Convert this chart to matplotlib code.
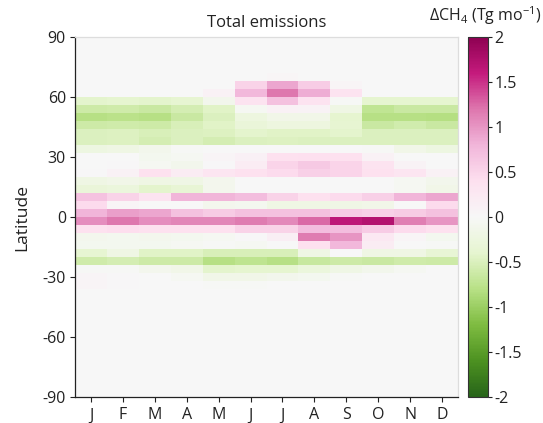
import numpy as np
import matplotlib
matplotlib.use("Agg")
import matplotlib.pyplot as plt

plt.rcParams['font.family'] = ['Open Sans', 'DejaVu Sans']
plt.rcParams['axes.unicode_minus'] = False
plt.rcParams['mathtext.fontset'] = 'custom'
plt.rcParams['mathtext.rm'] = 'Open Sans'
plt.rcParams['mathtext.it'] = 'Open Sans'

months = ['J', 'F', 'M', 'A', 'M', 'J', 'J', 'A', 'S', 'O', 'N', 'D']

# 4x5 style latitude grid: half-size polar boxes
lat_edges = [-90] + list(range(-88, 89, 4)) + [90]

# latitude band centres that carry a signal (all other bands are ~0)
band_lats = [70, 66, 62, 58, 54, 50, 46, 42, 38, 34, 30, 26, 22, 18, 14,
             10, 6, 2, -2, -6, -10, -14, -18, -22, -26, -30, -34]

# monthly delta CH4 (Tg/mo) per band, J..D
band_vals = [
    [0, 0, 0, 0, 0, 0, 0.04, 0, 0, 0, 0, 0],
    [0, 0, 0, 0, 0, 0.52, 0.9, 0.58, 0.05, 0, 0, 0],
    [0, 0, 0, 0, 0.1, 0.78, 1.2, 0.85, 0.35, 0, 0, 0],
    [-0.42, -0.4, -0.42, -0.38, -0.12, 0.35, 0.7, 0.35, -0.02, -0.4, -0.4, -0.4],
    [-0.62, -0.6, -0.65, -0.55, -0.45, -0.05, 0.1, 0.08, -0.2, -0.72, -0.65, -0.65],
    [-0.8, -0.78, -0.8, -0.65, -0.5, -0.25, -0.15, -0.15, -0.4, -0.8, -0.8, -0.82],
    [-0.62, -0.6, -0.62, -0.52, -0.45, -0.3, -0.25, -0.25, -0.38, -0.65, -0.58, -0.65],
    [-0.5, -0.47, -0.52, -0.5, -0.47, -0.42, -0.45, -0.45, -0.42, -0.5, -0.5, -0.5],
    [-0.5, -0.47, -0.55, -0.5, -0.56, -0.5, -0.48, -0.5, -0.5, -0.5, -0.5, -0.5],
    [-0.22, -0.2, -0.12, -0.02, 0, 0, 0, 0, 0, -0.02, -0.15, -0.22],
    [0, 0, -0.08, -0.05, 0.05, 0.12, 0.38, 0.4, 0.38, 0.1, 0, 0],
    [0, 0.03, -0.05, -0.12, 0.02, 0.2, 0.5, 0.62, 0.5, 0.35, 0.08, 0],
    [0.03, 0.1, 0.38, 0.2, 0.3, 0.38, 0.45, 0.55, 0.5, 0.38, 0.3, 0.1],
    [-0.2, -0.15, -0.2, -0.18, -0.1, 0, 0, 0, 0, 0, -0.05, -0.12],
    [-0.3, -0.28, -0.42, -0.35, -0.1, 0, 0, 0, 0, 0, -0.05, -0.15],
    [0.68, 0.52, 0.35, 0.8, 0.8, 0.72, 0.52, 0.38, 0.45, 0.55, 0.8, 0.9],
    [0.45, 0.05, 0, 0, -0.1, -0.08, -0.2, -0.2, -0.18, -0.15, 0, 0.45],
    [0.8, 0.95, 0.9, 0.7, 0.6, 0.7, 0.7, 0.7, 0.6, 0.55, 0.6, 0.7],
    [1.05, 1.2, 1.05, 1.1, 1.1, 1.17, 1.08, 1.25, 1.65, 1.72, 1.15, 1.0],
    [0.38, 0.42, 0.38, 0.38, 0.38, 0.52, 0.52, 0.72, 0.72, 0.58, 0.45, 0.38],
    [-0.1, -0.08, -0.1, -0.08, -0.05, 0.03, 0.15, 1.17, 1.0, 0.25, 0.05, -0.08],
    [-0.08, -0.08, -0.08, -0.05, -0.03, -0.05, 0, 0.38, 0.78, 0.2, 0, -0.03],
    [-0.38, -0.2, -0.45, -0.45, -0.52, -0.52, -0.52, -0.2, 0, -0.2, -0.2, -0.35],
    [-0.6, -0.55, -0.62, -0.62, -0.8, -0.75, -0.8, -0.67, -0.62, -0.65, -0.6, -0.62],
    [-0.03, -0.03, -0.1, -0.15, -0.42, -0.4, -0.4, -0.28, -0.18, -0.12, -0.06, 0],
    [0.05, 0.02, 0, -0.05, -0.15, -0.15, -0.12, -0.08, -0.03, 0, 0, 0],
    [0.05, 0.02, 0, 0, -0.02, -0.02, 0, 0, 0, 0, 0, 0],
]

cbar_ticks = [-2, -1.5, -1, -0.5, 0, 0.5, 1, 1.5, 2]

# build grid
lat_edges = np.array(lat_edges, dtype=float)
lat_centers = 0.5 * (lat_edges[:-1] + lat_edges[1:])
Z = np.zeros((len(lat_centers), len(months)))
for lat, vals in zip(band_lats, band_vals):
    idx = np.argmin(np.abs(lat_centers - lat))
    Z[idx, :] = vals
month_edges = np.arange(len(months) + 1) + 0.5

W, H = 543, 423
fig = plt.figure(figsize=(W / 100, H / 100), dpi=100)
ax = fig.add_axes([75 / W, 1 - 397 / H, (458 - 75) / W, (397 - 37) / H])
cax = fig.add_axes([467.5 / W, 1 - 397 / H, 20 / W, (397 - 37) / H])

mesh = ax.pcolormesh(month_edges, lat_edges, Z, cmap='PiYG_r', vmin=-2, vmax=2,
                     shading='flat')
ax.set_xlim(0.5, 12.5)
ax.set_ylim(-90, 90)
ax.set_xticks(np.arange(1, 13))
ax.set_xticklabels(months)
ax.set_yticks([-90, -60, -30, 0, 30, 60, 90])
ax.set_yticklabels(['-90', '-60', '-30', '0', '30', '60', '90'])
ax.tick_params(axis='both', direction='out', length=3.5, width=0.8,
               colors='#222222', labelsize=11.5, pad=3)
ax.tick_params(axis='x', pad=4)
for side in ['left', 'bottom']:
    ax.spines[side].set_color('#222222')
    ax.spines[side].set_linewidth(0.9)
for side in ['top', 'right']:
    ax.spines[side].set_color('#dddddd')
    ax.spines[side].set_linewidth(0.9)
ax.set_ylabel('Latitude', fontsize=12.5, color='#222222', labelpad=9)
ax.set_title('Total emissions', fontsize=12, color='#222222', pad=7)

cb = fig.colorbar(mesh, cax=cax, ticks=cbar_ticks)
cb.ax.set_yticklabels(['%g' % t for t in cbar_ticks])
cb.ax.tick_params(direction='out', length=3, width=0.8, colors='#222222',
                  labelsize=11.5, pad=2)
cb.outline.set_linewidth(0.8)
cb.outline.set_edgecolor('#333333')

fig.text(0.997, 1 - 16 / H, r'$\Delta$CH$_4$ (Tg mo$^{-1}$)', ha='right', va='center',
         fontsize=11.5, color='#222222')

fig.savefig('out.png', dpi=100)
